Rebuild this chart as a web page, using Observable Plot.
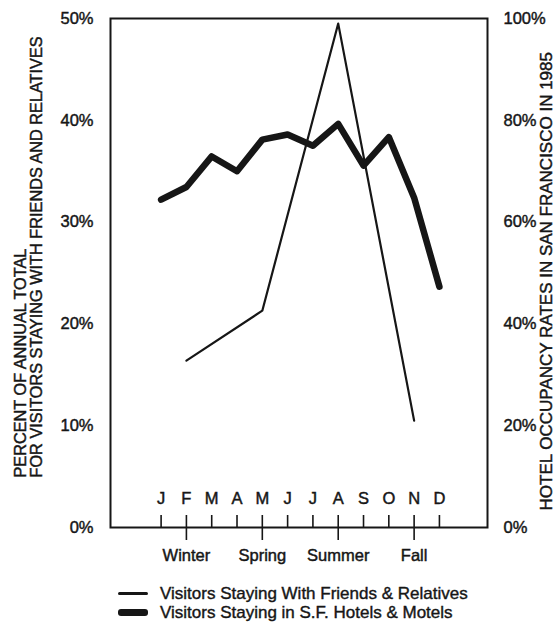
<!DOCTYPE html>
<html><head><meta charset="utf-8">
<script src="https://cdn.jsdelivr.net/npm/d3@7"></script>
<script src="https://cdn.jsdelivr.net/npm/@observablehq/plot@0.6"></script>
<style>
body{margin:0;background:#fff;width:556px;height:627px;position:relative;overflow:hidden;font-family:"Liberation Sans",Arial,sans-serif;color:#161616}
#chart{position:absolute;left:0;top:0}
#chart text{stroke:#161616;stroke-width:0.45px}
#legend{position:absolute;left:118px;top:584px;font-size:17px;-webkit-text-stroke:0.4px #161616}
.row{height:19px;line-height:19px;display:flex;align-items:center;white-space:nowrap}
.swatch{width:30px;background:#161616;margin-right:12px;border-radius:3px}
</style></head><body>
<div id="chart"></div>
<div id="legend"></div>
<script>
const monthLetters = ["J","F","M","A","M","J","J","A","S","O","N","D"];
const monthNumbers = [1,2,3,4,5,6,7,8,9,10,11,12];
const hotelOccupancy = [64.4, 66.9, 72.9, 70.0, 76.2, 77.2, 75.0, 79.3, 71.1, 76.7, 64.8, 47.3];
const seasons = ["Winter","Spring","Summer","Fall"];
const seasonMonths = [2,5,8,11];
const friendsRelatives = [16.4, 21.3, 49.5, 10.5];
const leftTicks = [0,10,20,30,40,50];
const rightTicks = [0,20,40,60,80,100];
const leftTitle = ["PERCENT OF ANNUAL TOTAL","FOR VISITORS STAYING WITH FRIENDS AND RELATIVES"];
const rightTitle = "HOTEL OCCUPANCY RATES IN SAN FRANCISCO IN 1985";
const legendLabels = ["Visitors Staying With Friends & Relatives","Visitors Staying in S.F. Hotels & Motels"];

const ink = "#161616";
const hotelData = monthNumbers.map((m,i)=>({month:m, occ:hotelOccupancy[i]}));
const friendsData = seasonMonths.map((m,i)=>({month:m, pct:friendsRelatives[i]}));

const chart = Plot.plot({
  width: 556, height: 575,
  marginLeft: 110, marginRight: 69, marginTop: 18, marginBottom: 48,
  style: {fontFamily: '"Liberation Sans", Arial, sans-serif', fontSize: "16.5px", color: ink, background: "white", overflow: "visible"},
  x: {domain: [-1, 13.9]},
  y: {domain: [0, 50]},
  marks: [
    Plot.axisY({anchor:"left", ticks: leftTicks, tickSize: 0, tickPadding: 17, tickFormat: d => d + "%", label: null, fontSize: 16.5}),
    Plot.axisY({anchor:"right", ticks: rightTicks.map(v => v/2), tickSize: 0, tickPadding: 16, tickFormat: d => (d*2) + "%", label: null, fontSize: 16.5}),
    Plot.axisX({anchor:"bottom", ticks: monthNumbers, tickSize: -12, tickFormat: () => "", label: null, strokeWidth: 1.6}),
    Plot.axisX({anchor:"bottom", ticks: seasonMonths, tickSize: 13, tickPadding: 9, tickFormat: d => seasons[seasonMonths.indexOf(d)], label: null, strokeWidth: 1.6, fontSize: 16.5}),
    Plot.frame({stroke: ink, strokeWidth: 2}),
    Plot.text(monthLetters, {x: (d,i) => monthNumbers[i], text: d => d, frameAnchor: "bottom", dy: -24, fontSize: 16.5, fill: ink}),
    Plot.line(friendsData, {x: "month", y: "pct", stroke: ink, strokeWidth: 2.2}),
    Plot.line(hotelData, {x: "month", y: d => d.occ / 2, stroke: ink, strokeWidth: 6.5, strokeLinejoin: "round", strokeLinecap: "round"}),
    Plot.text([leftTitle.join("\n")], {text: d => d, frameAnchor: "bottom-left", rotate: -90, textAnchor: "start", lineAnchor: "middle", lineHeight: 1, dx: -82, dy: -50, fontSize: 16.3, fill: ink}),
    Plot.text([rightTitle], {text: d => d, frameAnchor: "bottom-right", rotate: -90, textAnchor: "start", lineAnchor: "middle", dx: 59, dy: -17, fontSize: 17, fill: ink})
  ]
});
document.getElementById("chart").append(chart);

const legend = document.getElementById("legend");
[2.2, 6.5].forEach((w, i) => {
  const row = document.createElement("div"); row.className = "row";
  const sw = document.createElement("span"); sw.className = "swatch"; sw.style.height = w + "px";
  const tx = document.createElement("span"); tx.textContent = legendLabels[i];
  row.append(sw, tx); legend.append(row);
});
</script>
</body></html>
